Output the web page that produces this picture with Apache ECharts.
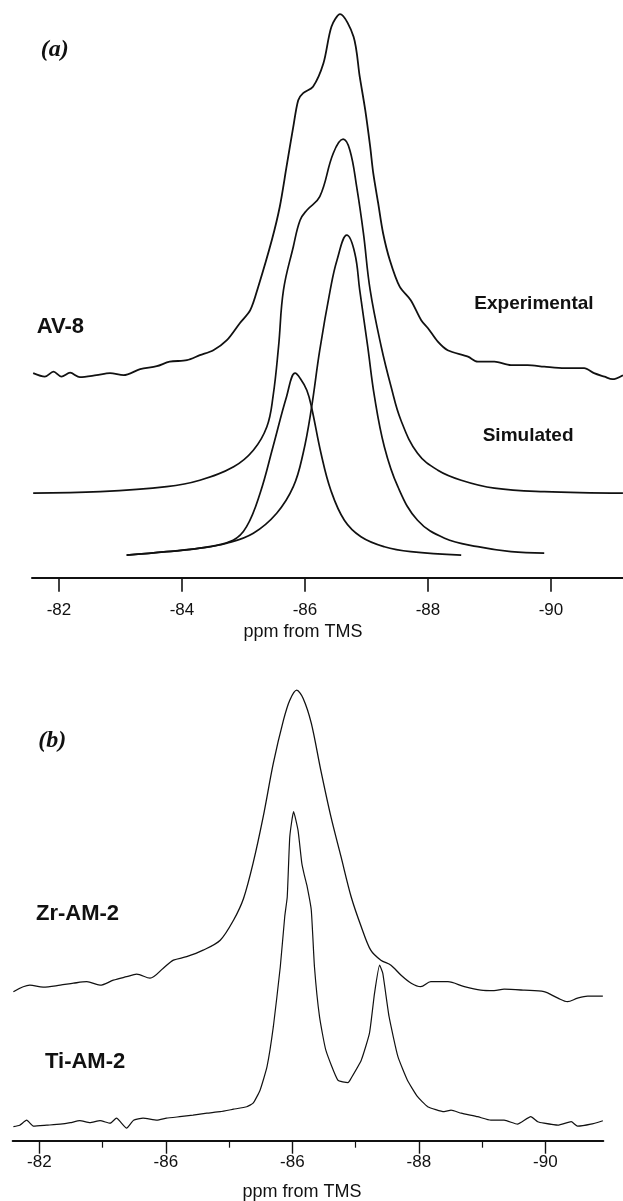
<!DOCTYPE html>
<html>
<head>
<meta charset="utf-8">
<script src="https://cdn.jsdelivr.net/npm/echarts@6/dist/echarts.min.js"></script>
<style>html,body{margin:0;padding:0;background:#fff;}#c{width:623px;height:1201px;}</style>
</head>
<body>
<div id="c"></div>
<script>
// ---- tick values / labels ----
var tickValues = [-82, -84, -86, -88, -90];
var tickLabelsA = ['-82', '-84', '-86', '-88', '-90'];
var tickLabelsB = ['-82', '-86', '-86', '-88', '-90'];
var minorTicksB = [-83, -85, -87, -89];
var axisTitle = 'ppm from TMS';

// ---- panel (a): AV-8, [ppm, intensity] ----
var avExperimental = [
 [-81.58,40.9],[-81.77,40.2],[-81.91,41.2],[-82.04,40.2],[-82.18,41.0],[-82.34,40.1],[-82.61,40.5],
 [-82.83,40.9],[-83.05,40.5],[-83.32,41.7],[-83.59,42.3],[-83.80,43.2],[-84.08,43.5],[-84.29,44.5],
 [-84.51,45.5],[-84.73,47.5],[-84.94,50.9],[-85.11,53.5],[-85.24,58.2],[-85.46,67.5],[-85.59,74.2],
 [-85.70,82.2],[-85.81,90.2],[-85.89,95.5],[-85.97,96.9],[-86.13,98.2],[-86.30,102.9],[-86.43,110.2],
 [-86.57,112.7],[-86.79,108.2],[-86.89,100.2],[-86.98,93.5],[-87.06,86.2],[-87.11,80.9],[-87.19,74.9],
 [-87.27,68.9],[-87.38,63.5],[-87.54,58.2],[-87.72,55.5],[-87.89,51.5],[-88.00,49.9],[-88.16,47.2],
 [-88.32,45.5],[-88.65,44.2],[-88.81,43.2],[-89.08,43.2],[-89.35,42.5],[-89.62,42.5],[-89.89,42.2],
 [-90.22,41.9],[-90.54,41.9],[-90.70,40.9],[-90.87,40.2],[-91.00,39.7],[-91.17,40.5]
];
var avSimulated = [
 [-81.58,16.9],[-82.67,17.2],[-83.75,18.2],[-84.29,19.5],[-84.84,22.2],[-85.16,25.5],[-85.38,30.2],
 [-85.48,36.2],[-85.57,46.2],[-85.65,57.5],[-85.81,66.2],[-85.92,71.5],[-86.03,73.5],[-86.24,76.2],
 [-86.46,84.9],[-86.62,87.7],[-86.73,85.5],[-86.84,78.2],[-86.95,68.9],[-87.06,57.5],[-87.24,46.2],
 [-87.40,38.2],[-87.56,31.5],[-87.83,24.9],[-88.16,21.5],[-88.54,19.5],[-89.08,17.9],[-89.89,17.2],
 [-91.17,16.9]
];
var avComponent1 = [
 [-83.10,4.5],[-83.75,5.2],[-84.29,5.9],[-84.83,7.5],[-85.05,10.2],[-85.27,16.9],[-85.48,26.2],
 [-85.70,36.2],[-85.84,40.9],[-85.92,39.9],[-86.03,37.5],[-86.11,33.9],[-86.26,24.9],[-86.42,17.5],
 [-86.64,11.5],[-86.91,8.2],[-87.29,6.2],[-87.72,5.2],[-88.54,4.5]
];
var avComponent2 = [
 [-83.10,4.5],[-83.75,5.2],[-84.29,5.9],[-84.73,6.9],[-85.16,8.9],[-85.54,12.9],[-85.81,18.2],
 [-85.97,24.9],[-86.10,33.5],[-86.24,45.5],[-86.41,57.5],[-86.52,63.5],[-86.68,68.5],[-86.81,64.9],
 [-86.89,57.5],[-87.02,46.2],[-87.13,36.2],[-87.29,26.2],[-87.51,18.2],[-87.83,11.5],[-88.27,7.9],
 [-88.81,6.2],[-89.35,5.2],[-89.89,4.9]
];

// ---- panel (b): Zr-AM-2 and Ti-AM-2, [ppm, intensity] ----
var zrAM2 = [
 [-81.59,29.8],[-81.85,31.1],[-82.06,30.7],[-82.33,31.1],[-82.54,31.5],[-82.75,31.8],[-82.96,31.1],
 [-83.17,32.1],[-83.38,32.8],[-83.54,33.3],[-83.75,32.5],[-83.96,34.5],[-84.12,36.1],[-84.33,36.8],
 [-84.59,38.1],[-84.86,40.1],[-85.07,44.1],[-85.23,48.5],[-85.38,55.5],[-85.54,64.8],[-85.70,75.5],
 [-85.86,84.1],[-85.96,88.1],[-86.07,90.1],[-86.17,88.5],[-86.30,83.5],[-86.45,74.1],[-86.61,64.8],
 [-86.77,56.8],[-86.93,48.8],[-87.09,42.8],[-87.24,38.1],[-87.40,36.1],[-87.56,35.1],[-87.72,33.1],
 [-87.88,31.5],[-88.03,30.8],[-88.19,31.8],[-88.46,31.8],[-88.72,30.8],[-88.98,30.1],[-89.19,30.0],
 [-89.35,30.3],[-89.67,30.1],[-89.98,29.8],[-90.20,28.5],[-90.35,27.8],[-90.51,28.5],[-90.67,28.9],
 [-90.91,28.9]
];
var tiAM2 = [
 [-81.59,2.8],[-81.69,3.1],[-81.80,4.1],[-81.91,2.9],[-82.12,3.1],[-82.33,3.3],[-82.49,3.6],
 [-82.64,4.0],[-82.80,3.6],[-82.96,4.0],[-83.12,3.5],[-83.22,4.5],[-83.38,2.5],[-83.49,4.1],
 [-83.64,4.5],[-83.86,4.1],[-84.01,4.5],[-84.22,4.8],[-84.43,5.1],[-84.65,5.5],[-84.86,5.8],
 [-85.07,6.3],[-85.28,6.8],[-85.38,7.5],[-85.49,10.1],[-85.60,14.8],[-85.70,22.8],[-85.81,34.8],
 [-85.88,44.8],[-85.92,48.8],[-85.96,60.8],[-86.02,65.8],[-86.09,62.1],[-86.15,55.5],[-86.19,53.1],
 [-86.23,51.1],[-86.30,46.1],[-86.35,34.8],[-86.43,24.8],[-86.53,18.1],[-86.72,12.1],[-86.88,11.6],
 [-86.93,12.5],[-87.09,16.1],[-87.22,21.5],[-87.30,29.5],[-87.38,35.1],[-87.43,33.5],[-87.53,24.8],
 [-87.67,16.8],[-87.82,12.1],[-87.98,8.8],[-88.14,6.8],[-88.40,5.8],[-88.51,6.1],[-88.67,5.5],
 [-88.93,4.8],[-89.14,4.1],[-89.35,4.1],[-89.56,3.3],[-89.77,4.8],[-89.88,3.8],[-89.98,3.5],
 [-90.20,3.1],[-90.41,3.8],[-90.51,2.9],[-90.72,3.3],[-90.91,4.0]
];

var chart = echarts.init(document.getElementById('c'), null, {renderer: 'canvas'});
var INK = '#111';
var tickFont = {color: INK, fontSize: 17, fontFamily: 'Liberation Sans'};

function lineSeries(data, xi, yi, width, smooth) {
  return {type: 'line', xAxisIndex: xi, yAxisIndex: yi, data: data, showSymbol: false,
    smooth: smooth, lineStyle: {color: INK, width: width}, silent: true, z: 3};
}

function labelFrom(labels) {
  return function (v) {
    var i = tickValues.indexOf(Math.round(v));
    return i >= 0 ? labels[i] : '';
  };
}

chart.setOption({
  animation: false,
  backgroundColor: '#fff',
  grid: [
    {left: 32, width: 591, top: 2.7, height: 575},
    {left: 12.7, width: 590.6, top: 665.7, height: 475}
  ],
  xAxis: [
    {gridIndex: 0, type: 'value', position: 'bottom', inverse: true, min: -91.171, max: -81.561,
     axisLine: {show: true, lineStyle: {color: INK, width: 2}},
     axisTick: {show: true, length: 14, customValues: tickValues, lineStyle: {color: INK, width: 1.6}},
     axisLabel: {show: true, margin: 24, customValues: tickValues, formatter: labelFrom(tickLabelsA), ...tickFont},
     splitLine: {show: false}},
    {gridIndex: 1, type: 'value', position: 'bottom', inverse: true, min: -90.917, max: -81.579,
     axisLine: {show: true, lineStyle: {color: INK, width: 2}},
     axisTick: {show: true, length: 13, customValues: tickValues, lineStyle: {color: INK, width: 1.4}},
     axisLabel: {show: true, margin: 13, customValues: tickValues, formatter: labelFrom(tickLabelsB), ...tickFont},
     splitLine: {show: false}},
    {gridIndex: 1, type: 'value', position: 'bottom', offset: 0, inverse: true, min: -90.917, max: -81.579,
     axisLine: {show: false},
     axisTick: {show: true, length: 7, customValues: minorTicksB, lineStyle: {color: INK, width: 1.2}},
     axisLabel: {show: false},
     splitLine: {show: false}}
  ],
  yAxis: [
    {gridIndex: 0, type: 'value', min: 0, max: 115, show: false, splitLine: {show: false}},
    {gridIndex: 1, type: 'value', min: 0, max: 95, show: false, splitLine: {show: false}}
  ],
  series: [
    lineSeries(avExperimental, 0, 0, 1.8, 0.3),
    lineSeries(avSimulated, 0, 0, 1.7, 0.4),
    lineSeries(avComponent1, 0, 0, 1.7, 0.4),
    lineSeries(avComponent2, 0, 0, 1.7, 0.4),
    lineSeries(zrAM2, 1, 1, 1.3, 0.3),
    lineSeries(tiAM2, 1, 1, 1.2, 0.15)
  ],
  graphic: [
    {type: 'text', x: 40.7, y: 49.3, style: {text: '(a)', font: 'italic bold 24px "Liberation Serif"', fill: INK, verticalAlign: 'middle'}},
    {type: 'text', x: 36.7, y: 326.7, style: {text: 'AV-8', font: 'bold 22px "Liberation Sans"', fill: INK, verticalAlign: 'middle'}},
    {type: 'text', x: 474.3, y: 304, style: {text: 'Experimental', font: 'bold 19px "Liberation Sans"', fill: INK, verticalAlign: 'middle'}},
    {type: 'text', x: 482.7, y: 435.7, style: {text: 'Simulated', font: 'bold 19px "Liberation Sans"', fill: INK, verticalAlign: 'middle'}},
    {type: 'text', x: 303, y: 631.7, style: {text: axisTitle, font: '18px "Liberation Sans"', fill: INK, align: 'center', verticalAlign: 'middle'}},
    {type: 'text', x: 38.3, y: 741, style: {text: '(b)', font: 'italic bold 24px "Liberation Serif"', fill: INK, verticalAlign: 'middle'}},
    {type: 'text', x: 36, y: 914, style: {text: 'Zr-AM-2', font: 'bold 22px "Liberation Sans"', fill: INK, verticalAlign: 'middle'}},
    {type: 'text', x: 45, y: 1062.3, style: {text: 'Ti-AM-2', font: 'bold 22px "Liberation Sans"', fill: INK, verticalAlign: 'middle'}},
    {type: 'text', x: 302, y: 1191.7, style: {text: axisTitle, font: '18px "Liberation Sans"', fill: INK, align: 'center', verticalAlign: 'middle'}}
  ]
});
</script>
</body>
</html>
